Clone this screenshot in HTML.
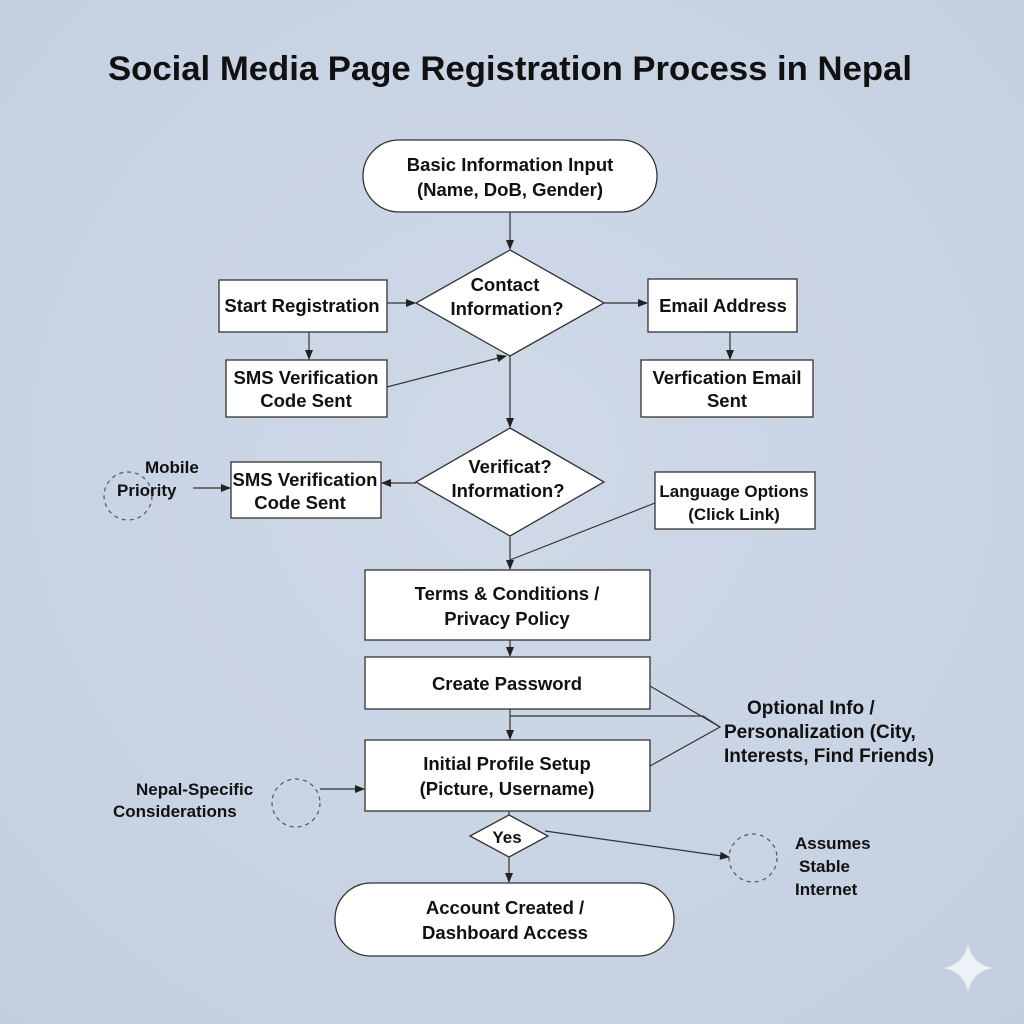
<!DOCTYPE html>
<html><head><meta charset="utf-8"><style>
html,body{margin:0;padding:0;background:#c9d4e4;}
svg{display:block;}
text{font-family:"Liberation Sans",Arial,sans-serif;font-weight:bold;fill:#111;}
</style></head><body>
<svg width="1024" height="1024" viewBox="0 0 1024 1024" xmlns="http://www.w3.org/2000/svg">
<defs>
<radialGradient id="bg" cx="50%" cy="45%" r="75%"><stop offset="0" stop-color="#cfd9e8"/><stop offset="1" stop-color="#c3cfe0"/></radialGradient>
<marker id="a" markerWidth="10" markerHeight="10" refX="9" refY="5" orient="auto" markerUnits="userSpaceOnUse"><path d="M0,1 L10,5 L0,9 Z" fill="#222"/></marker>
</defs>
<rect width="1024" height="1024" fill="url(#bg)"/>
<text x="510" y="80" font-size="34" text-anchor="middle" textLength="804" lengthAdjust="spacingAndGlyphs">Social Media Page Registration Process in Nepal</text>
<g stroke="#333" stroke-width="1.3" fill="#fff">
<rect x="363" y="140" width="294" height="72" rx="36"/>
<polygon points="510,250 604,303 510,356 416,303"/>
<rect x="219" y="280" width="168" height="52"/>
<rect x="648" y="279" width="149" height="53"/>
<rect x="226" y="360" width="161" height="57"/>
<rect x="641" y="360" width="172" height="57"/>
<polygon points="510,428 604,482 510,536 416,482"/>
<rect x="231" y="462" width="150" height="56"/>
<rect x="655" y="472" width="160" height="57"/>
<rect x="365" y="570" width="285" height="70"/>
<rect x="365" y="657" width="285" height="52"/>
<rect x="365" y="740" width="285" height="71"/>
<polygon points="509,815 548,836 509,857 470,836"/>
<rect x="335" y="883" width="339" height="73" rx="36"/>
</g>
<g stroke="#333" stroke-width="1.2" fill="none">
<line x1="510" y1="212" x2="510" y2="249" marker-end="url(#a)"/>
<line x1="387" y1="303" x2="415" y2="303" marker-end="url(#a)"/>
<line x1="604" y1="303" x2="647" y2="303" marker-end="url(#a)"/>
<line x1="309" y1="332" x2="309" y2="359" marker-end="url(#a)"/>
<line x1="387" y1="387" x2="506" y2="356" marker-end="url(#a)"/>
<line x1="730" y1="332" x2="730" y2="359" marker-end="url(#a)"/>
<line x1="510" y1="356" x2="510" y2="427" marker-end="url(#a)"/>
<line x1="416" y1="483" x2="382" y2="483" marker-end="url(#a)"/>
<line x1="193" y1="488" x2="230" y2="488" marker-end="url(#a)"/>
<line x1="655" y1="503" x2="510" y2="560"/>
<line x1="510" y1="536" x2="510" y2="569" marker-end="url(#a)"/>
<line x1="510" y1="640" x2="510" y2="656" marker-end="url(#a)"/>
<line x1="510" y1="709" x2="510" y2="739" marker-end="url(#a)"/>
<polyline points="510,716 703,716 720,727"/>
<polyline points="650,686 720,727 650,766"/>
<line x1="320" y1="789" x2="364" y2="789" marker-end="url(#a)"/>
<line x1="509" y1="811" x2="509" y2="815"/>
<line x1="509" y1="857" x2="509" y2="882" marker-end="url(#a)"/>
<line x1="545" y1="831" x2="729" y2="857" marker-end="url(#a)"/>
</g>
<g stroke="#555" stroke-width="1.2" fill="none" stroke-dasharray="4,4">
<circle cx="128" cy="496" r="24"/>
<circle cx="296" cy="803" r="24"/>
<circle cx="753" cy="858" r="24"/>
</g>
<g font-size="18.5" text-anchor="middle">
<text x="510" y="171">Basic Information Input</text>
<text x="510" y="196">(Name, DoB, Gender)</text>
<text x="505" y="291">Contact</text>
<text x="507" y="315">Information?</text>
<text x="302" y="312">Start Registration</text>
<text x="723" y="312">Email Address</text>
<text x="306" y="384">SMS Verification</text>
<text x="306" y="407">Code Sent</text>
<text x="727" y="384">Verfication Email</text>
<text x="727" y="407">Sent</text>
<text x="510" y="473">Verificat?</text>
<text x="508" y="497">Information?</text>
<text x="305" y="486">SMS Verification</text>
<text x="300" y="509">Code Sent</text>
<text x="734" y="497" font-size="17">Language Options</text>
<text x="734" y="520" font-size="17">(Click Link)</text>
<text x="507" y="600">Terms &amp; Conditions /</text>
<text x="507" y="625">Privacy Policy</text>
<text x="507" y="690">Create Password</text>
<text x="507" y="770">Initial Profile Setup</text>
<text x="507" y="795">(Picture, Username)</text>
<text x="507" y="843" font-size="17">Yes</text>
<text x="505" y="914">Account Created /</text>
<text x="505" y="939">Dashboard Access</text>
</g>
<g font-size="17">
<text x="145" y="473">Mobile</text>
<text x="117" y="496">Priority</text>
<text x="136" y="795">Nepal-Specific</text>
<text x="113" y="817">Considerations</text>
<text x="795" y="849">Assumes</text>
<text x="799" y="872">Stable</text>
<text x="795" y="895">Internet</text>
</g>
<g font-size="19">
<text x="747" y="714">Optional Info /</text>
<text x="724" y="738">Personalization (City,</text>
<text x="724" y="762">Interests, Find Friends)</text>
</g>
<path d="M968,944 Q972,964 992,968 Q972,972 968,992 Q964,972 944,968 Q964,964 968,944 Z" fill="#eef2f8"/>
</svg>
</body></html>
